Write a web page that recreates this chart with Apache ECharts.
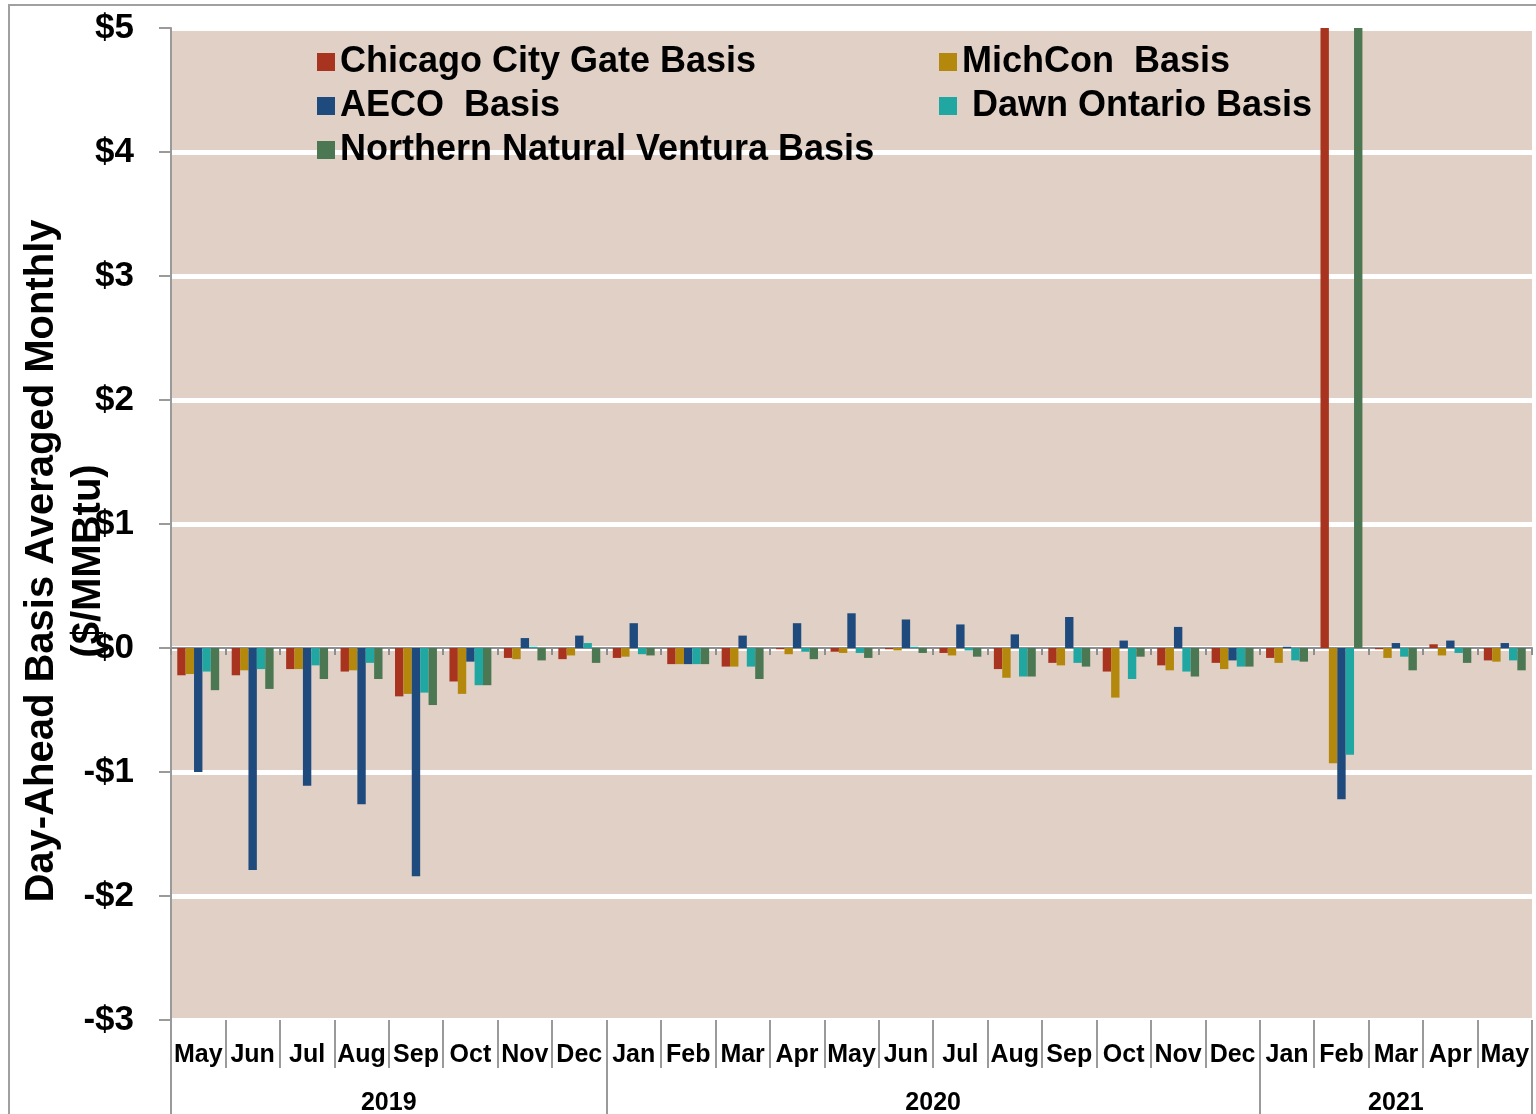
<!DOCTYPE html>
<html>
<head>
<meta charset="utf-8">
<script src="https://cdn.jsdelivr.net/npm/echarts@6/dist/echarts.min.js"></script>
<style>
  html, body { margin: 0; padding: 0; background: #fff; }
  #chart { width: 1536px; height: 1114px; }
</style>
</head>
<body>
<div id="chart"></div>
<script>
// meses y años del eje x
const months = ['May', 'Jun', 'Jul', 'Aug', 'Sep', 'Oct', 'Nov', 'Dec',
  'Jan', 'Feb', 'Mar', 'Apr', 'May', 'Jun', 'Jul', 'Aug', 'Sep', 'Oct', 'Nov', 'Dec',
  'Jan', 'Feb', 'Mar', 'Apr', 'May'];
const years = ['2019', '2019', '2019', '2019', '2019', '2019', '2019', '2019',
  '2020', '2020', '2020', '2020', '2020', '2020', '2020', '2020', '2020', '2020', '2020', '2020',
  '2021', '2021', '2021', '2021', '2021'];

// $/MMBtu (Feb 2021 de Chicago y Ventura salen fuera de escala)
const chicago = [-0.22, -0.22, -0.17, -0.19, -0.39, -0.27, -0.08, -0.09,
  -0.08, -0.13, -0.15, -0.01, -0.03, -0.01, -0.04, -0.17, -0.12, -0.19, -0.14, -0.12,
  -0.08, 14.5, -0.01, 0.03, -0.10];
const michcon = [-0.21, -0.18, -0.17, -0.18, -0.37, -0.37, -0.09, -0.06,
  -0.07, -0.13, -0.15, -0.05, -0.04, -0.02, -0.06, -0.24, -0.14, -0.40, -0.18, -0.17,
  -0.12, -0.93, -0.08, -0.06, -0.11];
const aeco = [-1.00, -1.79, -1.11, -1.26, -1.84, -0.11, 0.08, 0.10,
  0.20, -0.13, 0.10, 0.20, 0.28, 0.23, 0.19, 0.11, 0.25, 0.06, 0.17, -0.10,
  0.01, -1.22, 0.04, 0.06, 0.04];
const dawn = [-0.19, -0.17, -0.14, -0.12, -0.36, -0.30, 0.01, 0.04,
  -0.05, -0.13, -0.15, -0.03, -0.04, 0.01, -0.02, -0.23, -0.12, -0.25, -0.19, -0.15,
  -0.10, -0.86, -0.07, -0.04, -0.10];
const ventura = [-0.34, -0.33, -0.25, -0.25, -0.46, -0.30, -0.10, -0.12,
  -0.06, -0.13, -0.25, -0.09, -0.08, -0.04, -0.07, -0.23, -0.15, -0.07, -0.23, -0.15,
  -0.11, 28.0, -0.18, -0.12, -0.18];

const seriesNames = ['Chicago City Gate Basis', 'MichCon  Basis', 'AECO  Basis', ' Dawn Ontario Basis', 'Northern Natural Ventura Basis'];
const colors = ['#a8341f', '#b3880d', '#1f4a7d', '#21a7a2', '#4b7752'];
const seriesData = [chicago, michcon, aeco, dawn, ventura];

const FONT = "'Liberation Sans', Arial, sans-serif";

// centro de cada año (en unidades de categoría) para la etiqueta del año
const yearCenters = {};
years.forEach((y, i) => {
  if (!yearCenters[y]) yearCenters[y] = { s: i, e: i + 1 };
  yearCenters[y].e = i + 1;
});
const yearAt = {};
Object.keys(yearCenters).forEach(y => {
  yearAt[(yearCenters[y].s + yearCenters[y].e) / 2] = y;
});

const legendText = { fontFamily: FONT, fontWeight: 'bold', fontSize: 36, color: '#000', lineHeight: 36 };

const option = {
  backgroundColor: '#fff',
  animation: false,
  color: colors,
  grid: {
    left: 171, right: 4, top: 28, bottom: 94,
    outerBoundsMode: 'none',   // que las etiquetas de abajo no encojan el área
    show: true,
    backgroundColor: '#e0d0c5',
    borderWidth: 0
  },
  legend: [
    {
      left: 312, top: 39, orient: 'vertical',
      itemWidth: 18, itemHeight: 18, itemGap: 8,
      icon: 'rect',
      textStyle: legendText,
      data: [seriesNames[0], seriesNames[2], seriesNames[4]]
    },
    {
      left: 934, top: 39, orient: 'vertical',
      itemWidth: 18, itemHeight: 18, itemGap: 8,
      icon: 'rect',
      textStyle: legendText,
      data: [seriesNames[1], seriesNames[3]]
    }
  ],
  xAxis: [
    {
      // línea del cero con marcas pequeñas
      type: 'category',
      data: months,
      position: 'bottom',
      axisLine: { onZero: true, lineStyle: { color: '#8e8e8e', width: 2 } },
      axisTick: { show: true, length: 7, lineStyle: { color: '#8e8e8e', width: 2 } },
      axisLabel: { show: false },
      splitLine: { show: false }
    },
    {
      // etiquetas de meses abajo
      type: 'category',
      data: months,
      position: 'bottom',
      axisLine: { show: false, onZero: false },
      axisTick: { show: true, length: 48, lineStyle: { color: '#9a9a9a', width: 2 } },
      axisLabel: {
        interval: 0, margin: 23,
        fontFamily: FONT, fontWeight: 'bold', fontSize: 25, color: '#000'
      },
      splitLine: { show: false }
    },
    {
      // separadores de año
      type: 'category',
      data: months,
      position: 'bottom',
      axisLine: { show: false, onZero: false },
      axisTick: {
        show: true, length: 94,
        interval: (i) => i === 0 || years[i] !== years[i - 1],
        lineStyle: { color: '#9a9a9a', width: 2 }
      },
      axisLabel: { show: false },
      splitLine: { show: false }
    },
    {
      // etiquetas de año
      type: 'value',
      min: 0, max: months.length, interval: 0.5,
      position: 'bottom',
      axisLine: { show: false, onZero: false },
      axisTick: { show: false },
      splitLine: { show: false },
      axisLabel: {
        margin: 71,
        fontFamily: FONT, fontWeight: 'bold', fontSize: 25, color: '#000',
        formatter: v => yearAt[v] || ''
      }
    }
  ],
  yAxis: {
    type: 'value',
    min: -3, max: 5, interval: 1,
    axisLine: { show: true, onZero: false, lineStyle: { color: '#9a9a9a', width: 2 } },
    axisTick: { show: true, length: 12, lineStyle: { color: '#9a9a9a', width: 2 } },
    splitLine: { show: true, lineStyle: { color: '#fff', width: 5 } },
    axisLabel: {
      margin: 37,
      fontFamily: FONT, fontWeight: 'bold', fontSize: 35, color: '#000',
      formatter: v => (v < 0 ? '-$' : '$') + Math.abs(v)
    }
  },
  graphic: [
    {
      type: 'rect',
      shape: { x: 9, y: 5, width: 1560, height: 1200 },
      style: { fill: null, stroke: '#a0a0a0', lineWidth: 2 },
      silent: true
    },
    {
      type: 'text',
      x: 65, y: 561,
      rotation: Math.PI / 2,
      style: {
        text: 'Day-Ahead Basis Averaged Monthly\n($/MMBtu)',
        font: "bold 40px 'Liberation Sans', Arial, sans-serif",
        lineHeight: 47,
        fill: '#000',
        align: 'center',
        verticalAlign: 'middle'
      },
      z: 100
    }
  ],
  series: seriesNames.map((name, k) => ({
    name: name,
    type: 'bar',
    xAxisIndex: 0,
    data: seriesData[k],
    barGap: '0%',
    barCategoryGap: '23%',
    clip: true,
    itemStyle: { color: colors[k] }
  }))
};

const chart = echarts.init(document.getElementById('chart'));
chart.setOption(option);
</script>
</body>
</html>
